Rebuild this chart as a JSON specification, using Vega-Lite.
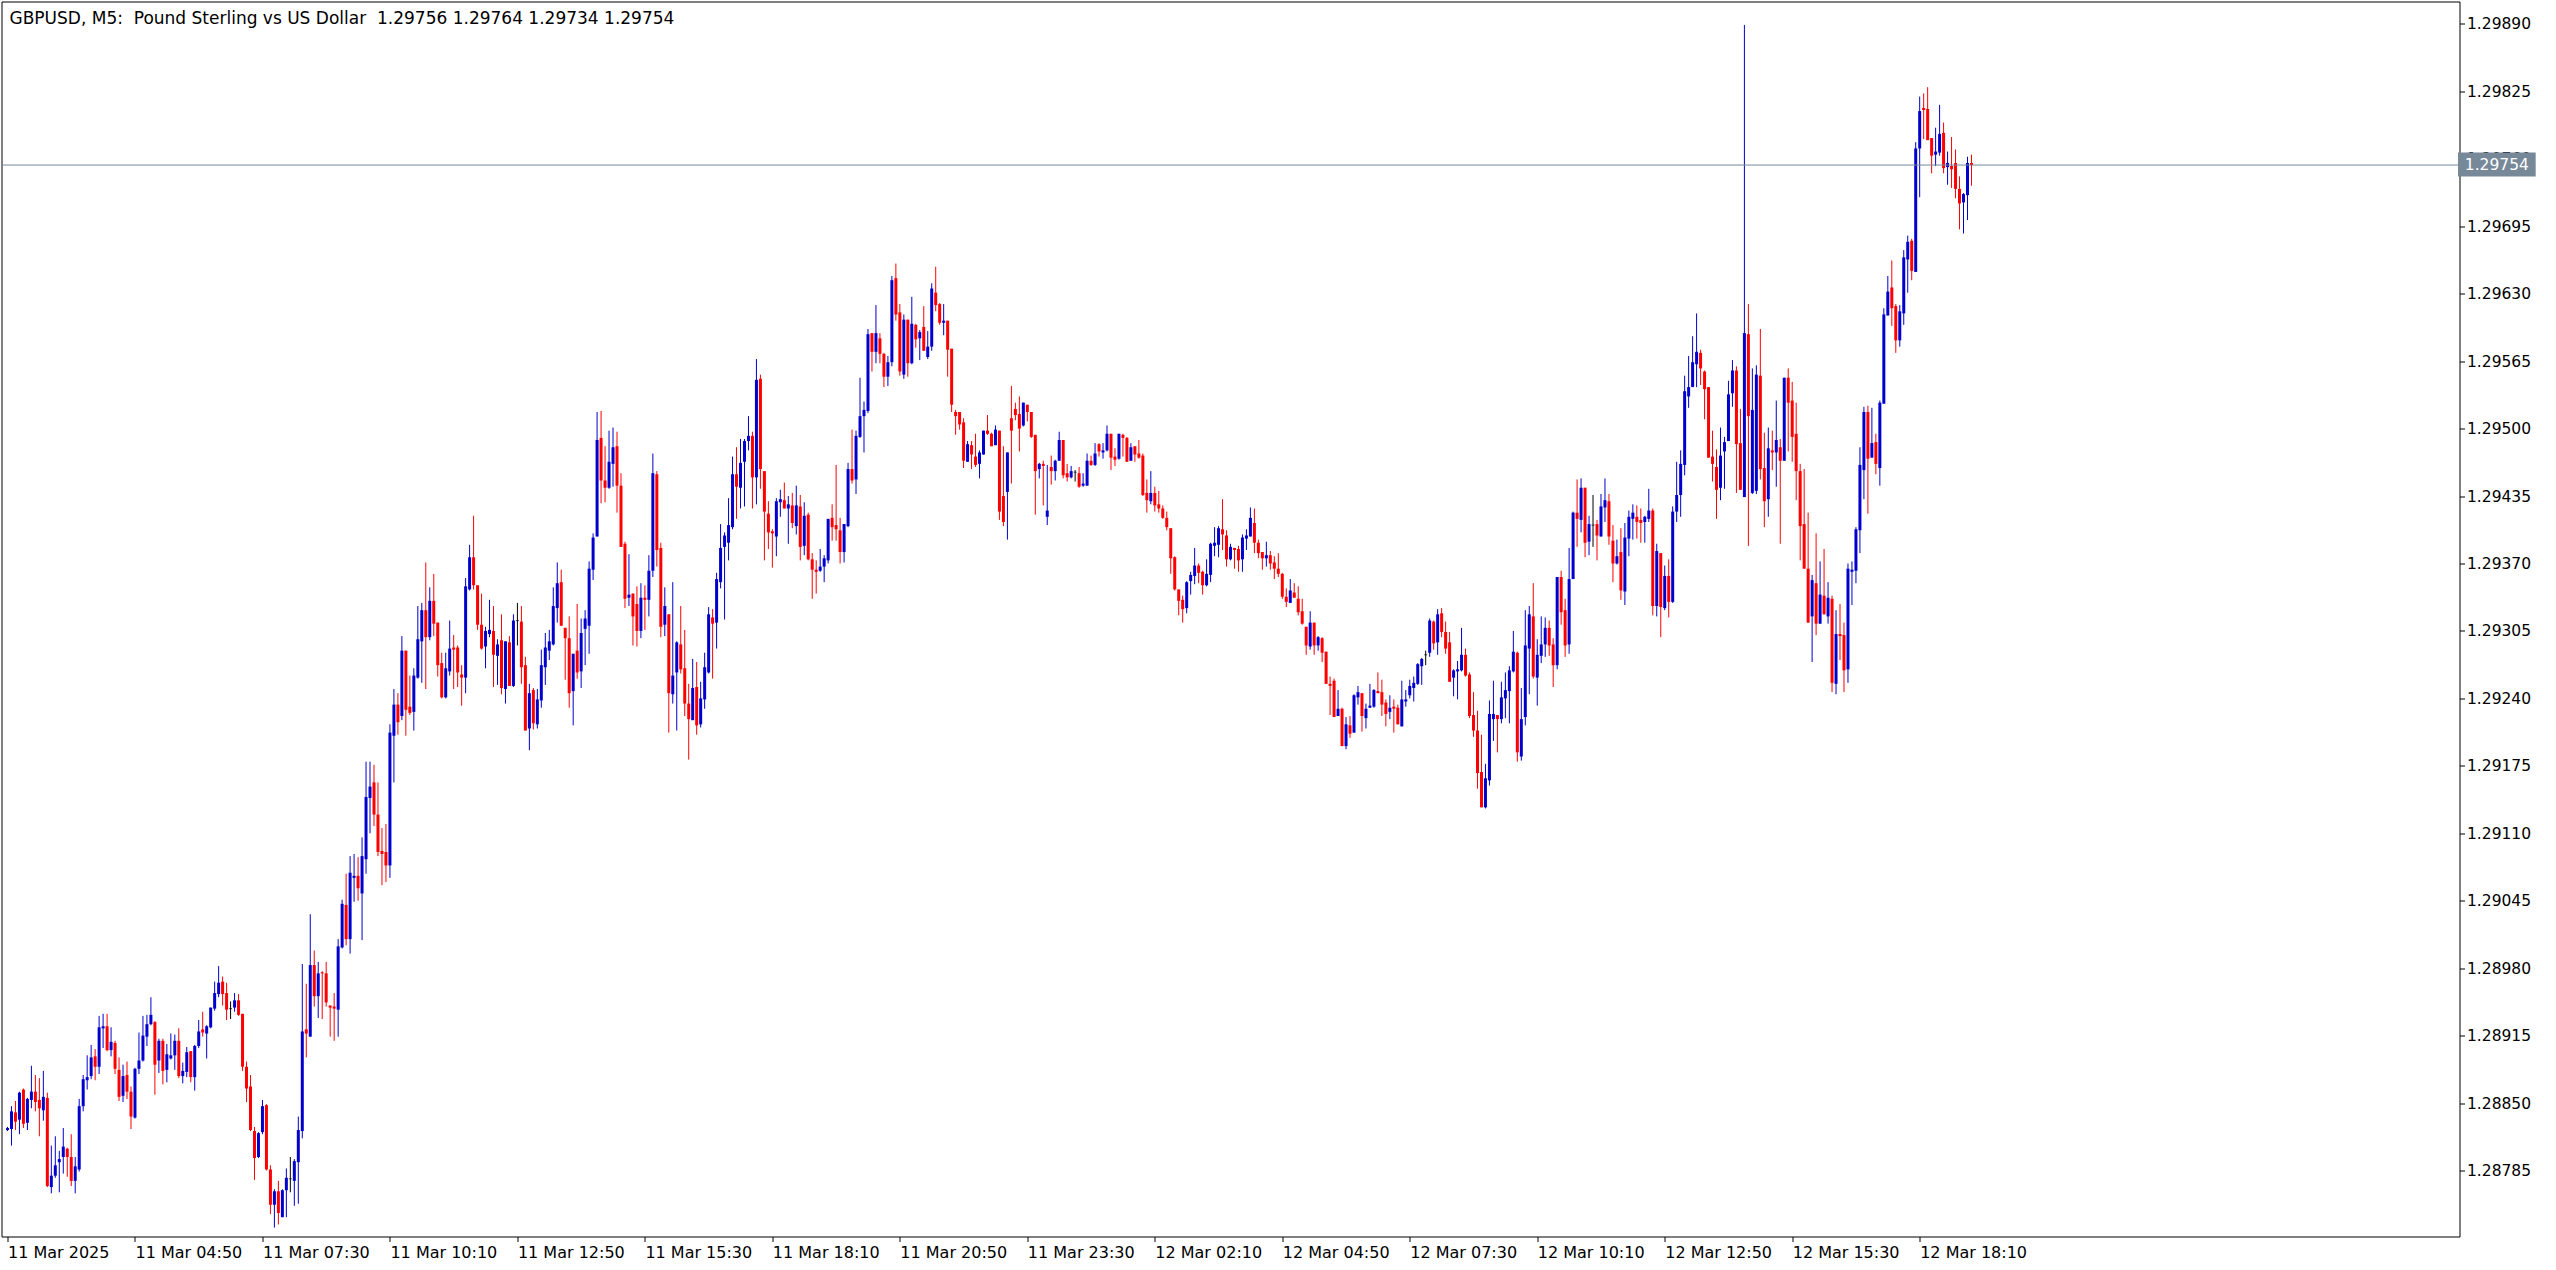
{
"$schema":"https://vega.github.io/schema/vega-lite/v6.json",
"width":2458,"height":1235,
"autosize":{"type":"none"},
"padding":{"left":1.5,"top":1.5,"right":96.5,"bottom":33.5},
"background":"white",
"config":{"view":{"stroke":"black","strokeWidth":1},"font":"DejaVu Sans"},
"title":{"text":"GBPUSD, M5: \u00a0Pound Sterling vs US Dollar \u00a01.29756 1.29764 1.29734 1.29754","anchor":"start","frame":"group","orient":"top","offset":-8,"baseline":"top","dx":8,"dy":18,"font":"DejaVu Sans","fontSize":17,"fontWeight":"normal","color":"black"},
"data":{"values":[
{"i":0,"o":1.28824,"h":1.28827,"l":1.28823,"c":1.28826},
{"i":1,"o":1.28825,"h":1.28847,"l":1.28809,"c":1.28842},
{"i":2,"o":1.28841,"h":1.28852,"l":1.28824,"c":1.28832},
{"i":3,"o":1.28834,"h":1.28861,"l":1.2882,"c":1.2886},
{"i":4,"o":1.28863,"h":1.28864,"l":1.28826,"c":1.2883},
{"i":5,"o":1.28831,"h":1.28855,"l":1.28824,"c":1.28854},
{"i":6,"o":1.28853,"h":1.28886,"l":1.28845,"c":1.28861},
{"i":7,"o":1.28861,"h":1.28877,"l":1.28842,"c":1.28851},
{"i":8,"o":1.28853,"h":1.28874,"l":1.28818,"c":1.28845},
{"i":9,"o":1.28843,"h":1.28881,"l":1.28833,"c":1.28856},
{"i":10,"o":1.28855,"h":1.2886,"l":1.28769,"c":1.2877},
{"i":11,"o":1.28769,"h":1.28809,"l":1.28763,"c":1.2878},
{"i":12,"o":1.2878,"h":1.28818,"l":1.28778,"c":1.2879},
{"i":13,"o":1.28793,"h":1.28804,"l":1.28764,"c":1.28796},
{"i":14,"o":1.28798,"h":1.28826,"l":1.28782,"c":1.28808},
{"i":15,"o":1.28806,"h":1.28807,"l":1.28779,"c":1.28798},
{"i":16,"o":1.28798,"h":1.2882,"l":1.2877,"c":1.28775},
{"i":17,"o":1.28775,"h":1.28798,"l":1.28763,"c":1.28789},
{"i":18,"o":1.28786,"h":1.28854,"l":1.28784,"c":1.28847},
{"i":19,"o":1.28847,"h":1.28877,"l":1.28842,"c":1.28873},
{"i":20,"o":1.28872,"h":1.28896,"l":1.28863,"c":1.28875},
{"i":21,"o":1.28876,"h":1.28906,"l":1.28873,"c":1.28894},
{"i":22,"o":1.28895,"h":1.28902,"l":1.28872,"c":1.28885},
{"i":23,"o":1.28885,"h":1.28934,"l":1.28878,"c":1.28923},
{"i":24,"o":1.28922,"h":1.28936,"l":1.28903,"c":1.28924},
{"i":25,"o":1.28924,"h":1.28936,"l":1.289,"c":1.28901},
{"i":26,"o":1.28901,"h":1.28923,"l":1.28895,"c":1.28909},
{"i":27,"o":1.28908,"h":1.2891,"l":1.28878,"c":1.28883},
{"i":28,"o":1.28882,"h":1.28894,"l":1.28852,"c":1.28856},
{"i":29,"o":1.28857,"h":1.28887,"l":1.28851,"c":1.28876},
{"i":30,"o":1.28877,"h":1.2889,"l":1.28854,"c":1.28861},
{"i":31,"o":1.28861,"h":1.28866,"l":1.28825,"c":1.28837},
{"i":32,"o":1.28836,"h":1.28884,"l":1.28835,"c":1.28883},
{"i":33,"o":1.28883,"h":1.28918,"l":1.28878,"c":1.28891},
{"i":34,"o":1.28891,"h":1.28934,"l":1.2889,"c":1.28915},
{"i":35,"o":1.28914,"h":1.28935,"l":1.28905,"c":1.28926},
{"i":36,"o":1.28926,"h":1.28952,"l":1.28925,"c":1.28935},
{"i":37,"o":1.28928,"h":1.28929,"l":1.28858,"c":1.28887},
{"i":38,"o":1.28891,"h":1.28912,"l":1.28879,"c":1.2891},
{"i":39,"o":1.2891,"h":1.28912,"l":1.28868,"c":1.28881},
{"i":40,"o":1.28882,"h":1.28907,"l":1.2887,"c":1.28897},
{"i":41,"o":1.28893,"h":1.28917,"l":1.28892,"c":1.28896},
{"i":42,"o":1.28896,"h":1.28916,"l":1.28882,"c":1.2891},
{"i":43,"o":1.2891,"h":1.28922,"l":1.28874,"c":1.28876},
{"i":44,"o":1.28876,"h":1.28889,"l":1.28869,"c":1.28881},
{"i":45,"o":1.2888,"h":1.28904,"l":1.28875,"c":1.28899},
{"i":46,"o":1.289,"h":1.289,"l":1.2887,"c":1.28875},
{"i":47,"o":1.28875,"h":1.28906,"l":1.28862,"c":1.28905},
{"i":48,"o":1.28905,"h":1.2893,"l":1.28903,"c":1.28919},
{"i":49,"o":1.28921,"h":1.28938,"l":1.28914,"c":1.28918},
{"i":50,"o":1.28917,"h":1.28925,"l":1.28893,"c":1.28924},
{"i":51,"o":1.28923,"h":1.28942,"l":1.28922,"c":1.28942},
{"i":52,"o":1.28941,"h":1.28967,"l":1.28939,"c":1.28956},
{"i":53,"o":1.28955,"h":1.28982,"l":1.28952,"c":1.28966},
{"i":54,"o":1.28967,"h":1.28972,"l":1.28944,"c":1.28955},
{"i":55,"o":1.28956,"h":1.28966,"l":1.2893,"c":1.2894},
{"i":56,"o":1.28941,"h":1.28948,"l":1.28931,"c":1.28941},
{"i":57,"o":1.28942,"h":1.28956,"l":1.28938,"c":1.28949},
{"i":58,"o":1.28949,"h":1.28955,"l":1.28934,"c":1.28935},
{"i":59,"o":1.28936,"h":1.28936,"l":1.28881,"c":1.28885},
{"i":60,"o":1.28885,"h":1.2889,"l":1.28851,"c":1.28864},
{"i":61,"o":1.28866,"h":1.28877,"l":1.28823,"c":1.28824},
{"i":62,"o":1.28823,"h":1.28827,"l":1.28776,"c":1.28797},
{"i":63,"o":1.28798,"h":1.28822,"l":1.28797,"c":1.28821},
{"i":64,"o":1.28822,"h":1.28853,"l":1.2882,"c":1.28847},
{"i":65,"o":1.28848,"h":1.28849,"l":1.28785,"c":1.28786},
{"i":66,"o":1.28786,"h":1.2879,"l":1.28743,"c":1.28752},
{"i":67,"o":1.28752,"h":1.28767,"l":1.2873,"c":1.28765},
{"i":68,"o":1.28765,"h":1.28775,"l":1.28733,"c":1.28744},
{"i":69,"o":1.2874,"h":1.28767,"l":1.2874,"c":1.28766},
{"i":70,"o":1.28766,"h":1.28787,"l":1.2874,"c":1.28778},
{"i":71,"o":1.28777,"h":1.28798,"l":1.28764,"c":1.28777},
{"i":72,"o":1.28775,"h":1.28796,"l":1.28751,"c":1.28794},
{"i":73,"o":1.28793,"h":1.28837,"l":1.28753,"c":1.28824},
{"i":74,"o":1.28823,"h":1.28984,"l":1.28816,"c":1.28919},
{"i":75,"o":1.28921,"h":1.28965,"l":1.28894,"c":1.28917},
{"i":76,"o":1.28914,"h":1.29032,"l":1.28914,"c":1.28983},
{"i":77,"o":1.28983,"h":1.28997,"l":1.28943,"c":1.28953},
{"i":78,"o":1.28953,"h":1.28986,"l":1.28932,"c":1.28975},
{"i":79,"o":1.28976,"h":1.28977,"l":1.28931,"c":1.28975},
{"i":80,"o":1.28975,"h":1.28986,"l":1.28943,"c":1.28947},
{"i":81,"o":1.28944,"h":1.28944,"l":1.28914,"c":1.28942},
{"i":82,"o":1.28943,"h":1.28956,"l":1.2891,"c":1.28941},
{"i":83,"o":1.2894,"h":1.29008,"l":1.28914,"c":1.29001},
{"i":84,"o":1.29,"h":1.29046,"l":1.28999,"c":1.29042},
{"i":85,"o":1.29041,"h":1.29071,"l":1.29002,"c":1.29008},
{"i":86,"o":1.29008,"h":1.29088,"l":1.28994,"c":1.29072},
{"i":87,"o":1.29067,"h":1.2909,"l":1.29044,"c":1.29069},
{"i":88,"o":1.29069,"h":1.29087,"l":1.29045,"c":1.29057},
{"i":89,"o":1.29052,"h":1.29106,"l":1.29007,"c":1.29088},
{"i":90,"o":1.29085,"h":1.29179,"l":1.29071,"c":1.29145},
{"i":91,"o":1.29144,"h":1.29179,"l":1.2911,"c":1.29155},
{"i":92,"o":1.29159,"h":1.29176,"l":1.29117,"c":1.29128},
{"i":93,"o":1.29128,"h":1.29159,"l":1.29088,"c":1.29092},
{"i":94,"o":1.29093,"h":1.29115,"l":1.2906,"c":1.2909},
{"i":95,"o":1.29092,"h":1.29119,"l":1.29063,"c":1.29079},
{"i":96,"o":1.29079,"h":1.29215,"l":1.29067,"c":1.29207},
{"i":97,"o":1.29204,"h":1.29249,"l":1.29159,"c":1.29234},
{"i":98,"o":1.29234,"h":1.29245,"l":1.29205,"c":1.29217},
{"i":99,"o":1.29223,"h":1.293,"l":1.29219,"c":1.29286},
{"i":100,"o":1.29286,"h":1.29286,"l":1.29204,"c":1.29229},
{"i":101,"o":1.29232,"h":1.29262,"l":1.29224,"c":1.29226},
{"i":102,"o":1.29227,"h":1.29269,"l":1.29209,"c":1.29262},
{"i":103,"o":1.2926,"h":1.29329,"l":1.29259,"c":1.29297},
{"i":104,"o":1.29295,"h":1.29332,"l":1.29255,"c":1.29325},
{"i":105,"o":1.29325,"h":1.29371,"l":1.29249,"c":1.29299},
{"i":106,"o":1.29299,"h":1.29347,"l":1.29296,"c":1.29334},
{"i":107,"o":1.29334,"h":1.2936,"l":1.293,"c":1.29312},
{"i":108,"o":1.29313,"h":1.29313,"l":1.29261,"c":1.29272},
{"i":109,"o":1.29274,"h":1.29284,"l":1.2924,"c":1.29241},
{"i":110,"o":1.29241,"h":1.29284,"l":1.2924,"c":1.29269},
{"i":111,"o":1.29266,"h":1.29315,"l":1.29262,"c":1.29288},
{"i":112,"o":1.29289,"h":1.29301,"l":1.29249,"c":1.29287},
{"i":113,"o":1.29289,"h":1.29291,"l":1.29251,"c":1.29265},
{"i":114,"o":1.29263,"h":1.29272,"l":1.29233,"c":1.2926},
{"i":115,"o":1.2926,"h":1.29356,"l":1.29245,"c":1.29348},
{"i":116,"o":1.29345,"h":1.29388,"l":1.29344,"c":1.29376},
{"i":117,"o":1.29376,"h":1.29416,"l":1.29345,"c":1.29349},
{"i":118,"o":1.29349,"h":1.29349,"l":1.29306,"c":1.29311},
{"i":119,"o":1.29311,"h":1.29341,"l":1.29287,"c":1.29288},
{"i":120,"o":1.2929,"h":1.29309,"l":1.29269,"c":1.29305},
{"i":121,"o":1.29302,"h":1.29335,"l":1.29299,"c":1.29306},
{"i":122,"o":1.29305,"h":1.29329,"l":1.29251,"c":1.29282},
{"i":123,"o":1.29281,"h":1.29297,"l":1.29253,"c":1.29292},
{"i":124,"o":1.29296,"h":1.29321,"l":1.29244,"c":1.2925},
{"i":125,"o":1.29249,"h":1.29295,"l":1.29235,"c":1.29295},
{"i":126,"o":1.29294,"h":1.293,"l":1.29252,"c":1.29252},
{"i":127,"o":1.29252,"h":1.29321,"l":1.29251,"c":1.29315},
{"i":128,"o":1.29315,"h":1.29332,"l":1.29291,"c":1.29315},
{"i":129,"o":1.29314,"h":1.29329,"l":1.29254,"c":1.2927},
{"i":130,"o":1.29272,"h":1.2928,"l":1.29209,"c":1.29209},
{"i":131,"o":1.29211,"h":1.29254,"l":1.2919,"c":1.29245},
{"i":132,"o":1.29248,"h":1.2925,"l":1.2921,"c":1.29216},
{"i":133,"o":1.29215,"h":1.29249,"l":1.29211,"c":1.29239},
{"i":134,"o":1.29238,"h":1.29287,"l":1.29231,"c":1.29272},
{"i":135,"o":1.2927,"h":1.29303,"l":1.29253,"c":1.29289},
{"i":136,"o":1.29286,"h":1.29306,"l":1.29277,"c":1.29295},
{"i":137,"o":1.29292,"h":1.29347,"l":1.29291,"c":1.29329},
{"i":138,"o":1.29327,"h":1.29371,"l":1.29313,"c":1.29351},
{"i":139,"o":1.29352,"h":1.29364,"l":1.2931,"c":1.2931},
{"i":140,"o":1.29308,"h":1.29308,"l":1.29258,"c":1.29298},
{"i":141,"o":1.29298,"h":1.29319,"l":1.29231,"c":1.29245},
{"i":142,"o":1.29247,"h":1.29283,"l":1.29214,"c":1.29283},
{"i":143,"o":1.29286,"h":1.29331,"l":1.29259,"c":1.29265},
{"i":144,"o":1.29266,"h":1.29317,"l":1.2925,"c":1.29303},
{"i":145,"o":1.29307,"h":1.29325,"l":1.29272,"c":1.29317},
{"i":146,"o":1.2931,"h":1.29372,"l":1.29283,"c":1.29365},
{"i":147,"o":1.29364,"h":1.29399,"l":1.29354,"c":1.29395},
{"i":148,"o":1.29396,"h":1.29516,"l":1.29396,"c":1.29489},
{"i":149,"o":1.29491,"h":1.29517,"l":1.29428,"c":1.2945},
{"i":150,"o":1.2945,"h":1.29483,"l":1.29429,"c":1.29443},
{"i":151,"o":1.29443,"h":1.29498,"l":1.29442,"c":1.29468},
{"i":152,"o":1.29466,"h":1.29501,"l":1.29444,"c":1.29482},
{"i":153,"o":1.29483,"h":1.29497,"l":1.29419,"c":1.29445},
{"i":154,"o":1.29445,"h":1.29457,"l":1.29386,"c":1.29386},
{"i":155,"o":1.29389,"h":1.29391,"l":1.29327,"c":1.29336},
{"i":156,"o":1.29337,"h":1.29379,"l":1.29329,"c":1.2934},
{"i":157,"o":1.29341,"h":1.29341,"l":1.29291,"c":1.29319},
{"i":158,"o":1.29331,"h":1.29348,"l":1.2929,"c":1.29305},
{"i":159,"o":1.29305,"h":1.29351,"l":1.29298,"c":1.29337},
{"i":160,"o":1.29337,"h":1.29349,"l":1.29306,"c":1.29335},
{"i":161,"o":1.29335,"h":1.29378,"l":1.29319,"c":1.29363},
{"i":162,"o":1.29363,"h":1.29476,"l":1.29357,"c":1.29457},
{"i":163,"o":1.29456,"h":1.29459,"l":1.29367,"c":1.29383},
{"i":164,"o":1.29385,"h":1.2939,"l":1.29299,"c":1.29309},
{"i":165,"o":1.29311,"h":1.29347,"l":1.293,"c":1.29329},
{"i":166,"o":1.29321,"h":1.29321,"l":1.29207,"c":1.29245},
{"i":167,"o":1.29244,"h":1.29352,"l":1.29235,"c":1.29262},
{"i":168,"o":1.29265,"h":1.29295,"l":1.29209,"c":1.29294},
{"i":169,"o":1.29292,"h":1.29329,"l":1.29264,"c":1.29268},
{"i":170,"o":1.29269,"h":1.29306,"l":1.29223,"c":1.29235},
{"i":171,"o":1.29235,"h":1.29254,"l":1.29181,"c":1.2922},
{"i":172,"o":1.29219,"h":1.29278,"l":1.29219,"c":1.2925},
{"i":173,"o":1.29251,"h":1.29275,"l":1.29205,"c":1.29214},
{"i":174,"o":1.29215,"h":1.29256,"l":1.29212,"c":1.2924},
{"i":175,"o":1.29239,"h":1.29284,"l":1.2923,"c":1.2927},
{"i":176,"o":1.29265,"h":1.29328,"l":1.29264,"c":1.29321},
{"i":177,"o":1.29318,"h":1.29326,"l":1.29259,"c":1.29312},
{"i":178,"o":1.29313,"h":1.29361,"l":1.29288,"c":1.29355},
{"i":179,"o":1.29352,"h":1.29408,"l":1.29346,"c":1.29385},
{"i":180,"o":1.29386,"h":1.294,"l":1.29316,"c":1.29397},
{"i":181,"o":1.2939,"h":1.29433,"l":1.29373,"c":1.29407},
{"i":182,"o":1.29405,"h":1.29473,"l":1.29403,"c":1.29456},
{"i":183,"o":1.29456,"h":1.29482,"l":1.29413,"c":1.29444},
{"i":184,"o":1.29443,"h":1.2949,"l":1.29423,"c":1.29467},
{"i":185,"o":1.29468,"h":1.2949,"l":1.29425,"c":1.29488},
{"i":186,"o":1.29488,"h":1.29512,"l":1.29479,"c":1.29493},
{"i":187,"o":1.29493,"h":1.29497,"l":1.29423,"c":1.29453},
{"i":188,"o":1.29453,"h":1.29567,"l":1.29427,"c":1.29547},
{"i":189,"o":1.29548,"h":1.29552,"l":1.29442,"c":1.29461},
{"i":190,"o":1.29459,"h":1.29459,"l":1.29373,"c":1.2942},
{"i":191,"o":1.29418,"h":1.2943,"l":1.29384,"c":1.294},
{"i":192,"o":1.29401,"h":1.29403,"l":1.29366,"c":1.29399},
{"i":193,"o":1.29396,"h":1.29433,"l":1.29377,"c":1.2943},
{"i":194,"o":1.29429,"h":1.29441,"l":1.29415,"c":1.29432},
{"i":195,"o":1.29431,"h":1.29448,"l":1.29423,"c":1.29423},
{"i":196,"o":1.29423,"h":1.29435,"l":1.29389,"c":1.29427},
{"i":197,"o":1.29426,"h":1.29438,"l":1.29404,"c":1.29409},
{"i":198,"o":1.29406,"h":1.29445,"l":1.29398,"c":1.29426},
{"i":199,"o":1.29425,"h":1.29436,"l":1.29373,"c":1.29386},
{"i":200,"o":1.29387,"h":1.29429,"l":1.29378,"c":1.29416},
{"i":201,"o":1.29417,"h":1.29419,"l":1.29373,"c":1.29374},
{"i":202,"o":1.29374,"h":1.2938,"l":1.29336,"c":1.29364},
{"i":203,"o":1.29364,"h":1.29373,"l":1.29341,"c":1.29362},
{"i":204,"o":1.29363,"h":1.29384,"l":1.29362,"c":1.29367},
{"i":205,"o":1.29367,"h":1.29378,"l":1.29352,"c":1.29375},
{"i":206,"o":1.29373,"h":1.29413,"l":1.2937,"c":1.29413},
{"i":207,"o":1.29414,"h":1.29427,"l":1.29392,"c":1.29405},
{"i":208,"o":1.29407,"h":1.29465,"l":1.29392,"c":1.29403},
{"i":209,"o":1.29402,"h":1.29414,"l":1.2937,"c":1.29381},
{"i":210,"o":1.29381,"h":1.29408,"l":1.29371,"c":1.29408},
{"i":211,"o":1.29406,"h":1.29467,"l":1.29405,"c":1.29461},
{"i":212,"o":1.29461,"h":1.29499,"l":1.29447,"c":1.2945},
{"i":213,"o":1.29451,"h":1.29498,"l":1.29437,"c":1.29493},
{"i":214,"o":1.29492,"h":1.29549,"l":1.29491,"c":1.29512},
{"i":215,"o":1.29512,"h":1.29526,"l":1.29477,"c":1.29518},
{"i":216,"o":1.29517,"h":1.29596,"l":1.29515,"c":1.29591},
{"i":217,"o":1.29592,"h":1.29592,"l":1.29555,"c":1.29574},
{"i":218,"o":1.29574,"h":1.29619,"l":1.29563,"c":1.29592},
{"i":219,"o":1.29587,"h":1.29592,"l":1.29563,"c":1.29572},
{"i":220,"o":1.29572,"h":1.29573,"l":1.2954,"c":1.2955},
{"i":221,"o":1.2955,"h":1.2957,"l":1.29541,"c":1.29564},
{"i":222,"o":1.29564,"h":1.29647,"l":1.2956,"c":1.29643},
{"i":223,"o":1.29645,"h":1.29659,"l":1.29604,"c":1.2961},
{"i":224,"o":1.29612,"h":1.2962,"l":1.29551,"c":1.29555},
{"i":225,"o":1.29552,"h":1.2961,"l":1.29548,"c":1.29605},
{"i":226,"o":1.29605,"h":1.29605,"l":1.2955,"c":1.29563},
{"i":227,"o":1.29563,"h":1.29627,"l":1.29562,"c":1.29601},
{"i":228,"o":1.296,"h":1.29601,"l":1.29578,"c":1.29586},
{"i":229,"o":1.29587,"h":1.29595,"l":1.29566,"c":1.29593},
{"i":230,"o":1.29598,"h":1.29618,"l":1.29575,"c":1.29575},
{"i":231,"o":1.29569,"h":1.29594,"l":1.29567,"c":1.29579},
{"i":232,"o":1.29579,"h":1.2964,"l":1.29575,"c":1.29635},
{"i":233,"o":1.29631,"h":1.29656,"l":1.29613,"c":1.29619},
{"i":234,"o":1.2962,"h":1.29621,"l":1.296,"c":1.29602},
{"i":235,"o":1.29602,"h":1.2962,"l":1.2959,"c":1.29604},
{"i":236,"o":1.29604,"h":1.29604,"l":1.2955,"c":1.29576},
{"i":237,"o":1.29577,"h":1.29577,"l":1.29516,"c":1.29523},
{"i":238,"o":1.29516,"h":1.29518,"l":1.29494,"c":1.29512},
{"i":239,"o":1.29516,"h":1.29516,"l":1.29499,"c":1.29504},
{"i":240,"o":1.29506,"h":1.2951,"l":1.29462,"c":1.29469},
{"i":241,"o":1.29468,"h":1.29488,"l":1.29468,"c":1.29485},
{"i":242,"o":1.29484,"h":1.29488,"l":1.29461,"c":1.29475},
{"i":243,"o":1.29473,"h":1.29495,"l":1.29463,"c":1.29465},
{"i":244,"o":1.29466,"h":1.29479,"l":1.29452,"c":1.29477},
{"i":245,"o":1.29475,"h":1.29498,"l":1.29475,"c":1.29498},
{"i":246,"o":1.29498,"h":1.29513,"l":1.29494,"c":1.29495},
{"i":247,"o":1.29495,"h":1.29496,"l":1.29483,"c":1.29483},
{"i":248,"o":1.29484,"h":1.29503,"l":1.29484,"c":1.29499},
{"i":249,"o":1.29498,"h":1.29498,"l":1.29412,"c":1.2942},
{"i":250,"o":1.29435,"h":1.29483,"l":1.29406,"c":1.2941},
{"i":251,"o":1.29439,"h":1.29477,"l":1.29393,"c":1.29477},
{"i":252,"o":1.2951,"h":1.29541,"l":1.29447,"c":1.29498},
{"i":253,"o":1.29519,"h":1.29525,"l":1.29508,"c":1.29513},
{"i":254,"o":1.29514,"h":1.29531,"l":1.29478,"c":1.295},
{"i":255,"o":1.29503,"h":1.29525,"l":1.29502,"c":1.29525},
{"i":256,"o":1.29523,"h":1.29523,"l":1.29507,"c":1.29516},
{"i":257,"o":1.29516,"h":1.29516,"l":1.29491,"c":1.29492},
{"i":258,"o":1.29494,"h":1.29494,"l":1.29417,"c":1.29459},
{"i":259,"o":1.29461,"h":1.29467,"l":1.29452,"c":1.29466},
{"i":260,"o":1.29466,"h":1.29469,"l":1.29426,"c":1.29464},
{"i":261,"o":1.29415,"h":1.29465,"l":1.29407,"c":1.29421},
{"i":262,"o":1.29463,"h":1.29474,"l":1.29446,"c":1.29459},
{"i":263,"o":1.29459,"h":1.2947,"l":1.2945,"c":1.29469},
{"i":264,"o":1.29469,"h":1.29497,"l":1.29469,"c":1.29489},
{"i":265,"o":1.29489,"h":1.29489,"l":1.29452,"c":1.29455},
{"i":266,"o":1.29457,"h":1.29466,"l":1.29449,"c":1.29453},
{"i":267,"o":1.29453,"h":1.29464,"l":1.29452,"c":1.29459},
{"i":268,"o":1.29458,"h":1.2946,"l":1.29449,"c":1.29458},
{"i":269,"o":1.29457,"h":1.29463,"l":1.29443,"c":1.29444},
{"i":270,"o":1.29445,"h":1.29457,"l":1.29444,"c":1.29447},
{"i":271,"o":1.29445,"h":1.29476,"l":1.29445,"c":1.29469},
{"i":272,"o":1.29469,"h":1.29474,"l":1.29464,"c":1.29465},
{"i":273,"o":1.29465,"h":1.29486,"l":1.29464,"c":1.29476},
{"i":274,"o":1.29485,"h":1.29486,"l":1.29473,"c":1.29478},
{"i":275,"o":1.29477,"h":1.29486,"l":1.29471,"c":1.29479},
{"i":276,"o":1.29479,"h":1.29503,"l":1.29478,"c":1.29495},
{"i":277,"o":1.29495,"h":1.29495,"l":1.2946,"c":1.29472},
{"i":278,"o":1.29473,"h":1.29481,"l":1.29464,"c":1.2947},
{"i":279,"o":1.29471,"h":1.29495,"l":1.2947,"c":1.29495},
{"i":280,"o":1.29494,"h":1.29495,"l":1.29473,"c":1.29491},
{"i":281,"o":1.29491,"h":1.29492,"l":1.29468,"c":1.29468},
{"i":282,"o":1.29469,"h":1.29486,"l":1.29469,"c":1.29482},
{"i":283,"o":1.29483,"h":1.29483,"l":1.29468,"c":1.29475},
{"i":284,"o":1.29476,"h":1.29489,"l":1.29471,"c":1.29472},
{"i":285,"o":1.29474,"h":1.29476,"l":1.29435,"c":1.29436},
{"i":286,"o":1.29438,"h":1.29451,"l":1.29419,"c":1.29431},
{"i":287,"o":1.2943,"h":1.29459,"l":1.29427,"c":1.29438},
{"i":288,"o":1.29438,"h":1.29444,"l":1.2942,"c":1.29426},
{"i":289,"o":1.29427,"h":1.2944,"l":1.29419,"c":1.29423},
{"i":290,"o":1.29423,"h":1.29426,"l":1.29413,"c":1.29414},
{"i":291,"o":1.29414,"h":1.2942,"l":1.29402,"c":1.29405},
{"i":292,"o":1.29404,"h":1.29404,"l":1.2936,"c":1.29375},
{"i":293,"o":1.29376,"h":1.29377,"l":1.29344,"c":1.29345},
{"i":294,"o":1.29345,"h":1.29345,"l":1.2932,"c":1.29334},
{"i":295,"o":1.29335,"h":1.29339,"l":1.29313,"c":1.29326},
{"i":296,"o":1.29327,"h":1.29353,"l":1.29322,"c":1.29352},
{"i":297,"o":1.29353,"h":1.29362,"l":1.2934,"c":1.29359},
{"i":298,"o":1.29358,"h":1.29385,"l":1.2935,"c":1.29368},
{"i":299,"o":1.29368,"h":1.2937,"l":1.29351,"c":1.29361},
{"i":300,"o":1.29362,"h":1.29363,"l":1.2934,"c":1.29349},
{"i":301,"o":1.29349,"h":1.29374,"l":1.29348,"c":1.2936},
{"i":302,"o":1.29359,"h":1.2939,"l":1.29352,"c":1.29389},
{"i":303,"o":1.29387,"h":1.29405,"l":1.29377,"c":1.2939},
{"i":304,"o":1.29388,"h":1.29406,"l":1.29376,"c":1.29404},
{"i":305,"o":1.29403,"h":1.29432,"l":1.29383,"c":1.29398},
{"i":306,"o":1.29397,"h":1.29402,"l":1.29367,"c":1.29374},
{"i":307,"o":1.29374,"h":1.29389,"l":1.29373,"c":1.29386},
{"i":308,"o":1.29385,"h":1.29385,"l":1.29365,"c":1.29383},
{"i":309,"o":1.29384,"h":1.29387,"l":1.29362,"c":1.29373},
{"i":310,"o":1.29374,"h":1.29398,"l":1.29362,"c":1.29395},
{"i":311,"o":1.29394,"h":1.29403,"l":1.29383,"c":1.29397},
{"i":312,"o":1.29396,"h":1.29424,"l":1.29396,"c":1.29414},
{"i":313,"o":1.29409,"h":1.29423,"l":1.2938,"c":1.2939},
{"i":314,"o":1.2939,"h":1.29393,"l":1.29375,"c":1.2938},
{"i":315,"o":1.29381,"h":1.29381,"l":1.29364,"c":1.29375},
{"i":316,"o":1.29375,"h":1.29391,"l":1.29367,"c":1.29378},
{"i":317,"o":1.29378,"h":1.29382,"l":1.29364,"c":1.2937},
{"i":318,"o":1.29371,"h":1.29377,"l":1.29355,"c":1.29365},
{"i":319,"o":1.29365,"h":1.2938,"l":1.29357,"c":1.2936},
{"i":320,"o":1.2936,"h":1.29361,"l":1.29336,"c":1.29338},
{"i":321,"o":1.29338,"h":1.29346,"l":1.29328,"c":1.29333},
{"i":322,"o":1.29332,"h":1.29355,"l":1.29332,"c":1.29344},
{"i":323,"o":1.29342,"h":1.29351,"l":1.29337,"c":1.29337},
{"i":324,"o":1.29336,"h":1.29348,"l":1.2932,"c":1.29323},
{"i":325,"o":1.29324,"h":1.29336,"l":1.29311,"c":1.29312},
{"i":326,"o":1.29309,"h":1.29309,"l":1.29282,"c":1.29291},
{"i":327,"o":1.2929,"h":1.29324,"l":1.29287,"c":1.29313},
{"i":328,"o":1.29313,"h":1.29313,"l":1.29282,"c":1.29291},
{"i":329,"o":1.29291,"h":1.293,"l":1.29286,"c":1.29299},
{"i":330,"o":1.29298,"h":1.29299,"l":1.29275,"c":1.29284},
{"i":331,"o":1.29285,"h":1.29285,"l":1.29254,"c":1.29254},
{"i":332,"o":1.29254,"h":1.29261,"l":1.29224,"c":1.29252},
{"i":333,"o":1.29257,"h":1.29259,"l":1.29222,"c":1.29222},
{"i":334,"o":1.29223,"h":1.29248,"l":1.29223,"c":1.2923},
{"i":335,"o":1.2923,"h":1.29231,"l":1.29194,"c":1.29194},
{"i":336,"o":1.29194,"h":1.29222,"l":1.29191,"c":1.29215},
{"i":337,"o":1.29214,"h":1.29223,"l":1.29202,"c":1.29206},
{"i":338,"o":1.29207,"h":1.29244,"l":1.29207,"c":1.29243},
{"i":339,"o":1.29241,"h":1.29252,"l":1.29234,"c":1.29246},
{"i":340,"o":1.29245,"h":1.29245,"l":1.29208,"c":1.29223},
{"i":341,"o":1.29221,"h":1.29235,"l":1.29211,"c":1.2923},
{"i":342,"o":1.29231,"h":1.29254,"l":1.29231,"c":1.29233},
{"i":343,"o":1.29232,"h":1.29249,"l":1.29231,"c":1.29248},
{"i":344,"o":1.29247,"h":1.29265,"l":1.29245,"c":1.29245},
{"i":345,"o":1.29246,"h":1.29258,"l":1.29223,"c":1.29234},
{"i":346,"o":1.29236,"h":1.29239,"l":1.29213,"c":1.29225},
{"i":347,"o":1.29227,"h":1.29243,"l":1.2922,"c":1.29231},
{"i":348,"o":1.29232,"h":1.29239,"l":1.29207,"c":1.2923},
{"i":349,"o":1.29231,"h":1.29234,"l":1.29215,"c":1.29215},
{"i":350,"o":1.29213,"h":1.29257,"l":1.29213,"c":1.29239},
{"i":351,"o":1.29237,"h":1.29248,"l":1.29232,"c":1.29239},
{"i":352,"o":1.29243,"h":1.29258,"l":1.2924,"c":1.29252},
{"i":353,"o":1.2925,"h":1.29261,"l":1.29237,"c":1.29255},
{"i":354,"o":1.29254,"h":1.29274,"l":1.29253,"c":1.29273},
{"i":355,"o":1.29271,"h":1.29279,"l":1.29253,"c":1.29278},
{"i":356,"o":1.29282,"h":1.29286,"l":1.29272,"c":1.29282},
{"i":357,"o":1.29284,"h":1.29317,"l":1.2928,"c":1.29315},
{"i":358,"o":1.29314,"h":1.29315,"l":1.29287,"c":1.29293},
{"i":359,"o":1.29294,"h":1.29326,"l":1.29282,"c":1.29321},
{"i":360,"o":1.29322,"h":1.29327,"l":1.29299,"c":1.29304},
{"i":361,"o":1.29304,"h":1.29314,"l":1.29283,"c":1.29288},
{"i":362,"o":1.29294,"h":1.29304,"l":1.29256,"c":1.29256},
{"i":363,"o":1.2926,"h":1.29268,"l":1.29242,"c":1.29267},
{"i":364,"o":1.29266,"h":1.29276,"l":1.29239,"c":1.29268},
{"i":365,"o":1.29267,"h":1.29308,"l":1.29266,"c":1.29282},
{"i":366,"o":1.29282,"h":1.29288,"l":1.29261,"c":1.29262},
{"i":367,"o":1.29263,"h":1.29265,"l":1.29221,"c":1.29223},
{"i":368,"o":1.29224,"h":1.29246,"l":1.29203,"c":1.29209},
{"i":369,"o":1.29209,"h":1.29228,"l":1.29153,"c":1.29168},
{"i":370,"o":1.29169,"h":1.29205,"l":1.29135,"c":1.29135},
{"i":371,"o":1.29135,"h":1.29177,"l":1.29134,"c":1.29163},
{"i":372,"o":1.29161,"h":1.29238,"l":1.29156,"c":1.29225},
{"i":373,"o":1.2922,"h":1.29257,"l":1.29199,"c":1.29225},
{"i":374,"o":1.29224,"h":1.29224,"l":1.29188,"c":1.2922},
{"i":375,"o":1.2922,"h":1.29256,"l":1.29216,"c":1.29241},
{"i":376,"o":1.2924,"h":1.29265,"l":1.29221,"c":1.29248},
{"i":377,"o":1.29247,"h":1.29271,"l":1.29216,"c":1.29267},
{"i":378,"o":1.29266,"h":1.29305,"l":1.29265,"c":1.29285},
{"i":379,"o":1.29284,"h":1.29285,"l":1.29179,"c":1.29188},
{"i":380,"o":1.29184,"h":1.2925,"l":1.2918,"c":1.2922},
{"i":381,"o":1.29222,"h":1.29325,"l":1.29214,"c":1.29291},
{"i":382,"o":1.29288,"h":1.29329,"l":1.29244,"c":1.29321},
{"i":383,"o":1.29319,"h":1.29351,"l":1.29259,"c":1.29261},
{"i":384,"o":1.2926,"h":1.29297,"l":1.29233,"c":1.29282},
{"i":385,"o":1.29281,"h":1.29319,"l":1.29274,"c":1.29292},
{"i":386,"o":1.29292,"h":1.29318,"l":1.2928,"c":1.29308},
{"i":387,"o":1.29308,"h":1.29315,"l":1.29281,"c":1.29291},
{"i":388,"o":1.29292,"h":1.29298,"l":1.29251,"c":1.29272},
{"i":389,"o":1.29272,"h":1.29357,"l":1.29268,"c":1.29357},
{"i":390,"o":1.29357,"h":1.29363,"l":1.29311,"c":1.29323},
{"i":391,"o":1.29325,"h":1.29336,"l":1.2928,"c":1.29291},
{"i":392,"o":1.29292,"h":1.29385,"l":1.29283,"c":1.29355},
{"i":393,"o":1.29355,"h":1.2942,"l":1.29355,"c":1.29419},
{"i":394,"o":1.29419,"h":1.29451,"l":1.29386,"c":1.29413},
{"i":395,"o":1.29412,"h":1.29452,"l":1.294,"c":1.29443},
{"i":396,"o":1.29443,"h":1.29443,"l":1.29376,"c":1.2939},
{"i":397,"o":1.29391,"h":1.29416,"l":1.29378,"c":1.29408},
{"i":398,"o":1.29407,"h":1.29436,"l":1.29386,"c":1.29407},
{"i":399,"o":1.29408,"h":1.29412,"l":1.29373,"c":1.29397},
{"i":400,"o":1.29396,"h":1.29437,"l":1.29396,"c":1.29425},
{"i":401,"o":1.29424,"h":1.29452,"l":1.2941,"c":1.29431},
{"i":402,"o":1.2943,"h":1.29437,"l":1.29388,"c":1.29396},
{"i":403,"o":1.29392,"h":1.29407,"l":1.29352,"c":1.2937},
{"i":404,"o":1.2937,"h":1.29393,"l":1.29369,"c":1.29377},
{"i":405,"o":1.29381,"h":1.29404,"l":1.29335,"c":1.29344},
{"i":406,"o":1.29343,"h":1.29409,"l":1.2933,"c":1.29395},
{"i":407,"o":1.29394,"h":1.29421,"l":1.29377,"c":1.29415},
{"i":408,"o":1.29413,"h":1.29427,"l":1.29393,"c":1.29419},
{"i":409,"o":1.29415,"h":1.29426,"l":1.29394,"c":1.2941},
{"i":410,"o":1.29412,"h":1.29423,"l":1.2939,"c":1.29409},
{"i":411,"o":1.2941,"h":1.29416,"l":1.2939,"c":1.29415},
{"i":412,"o":1.29413,"h":1.29442,"l":1.2941,"c":1.29421},
{"i":413,"o":1.29421,"h":1.29423,"l":1.2932,"c":1.29329},
{"i":414,"o":1.29329,"h":1.29389,"l":1.29319,"c":1.29382},
{"i":415,"o":1.2938,"h":1.2938,"l":1.29299,"c":1.29328},
{"i":416,"o":1.29327,"h":1.29368,"l":1.29325,"c":1.29358},
{"i":417,"o":1.29358,"h":1.29374,"l":1.29318,"c":1.29333},
{"i":418,"o":1.29333,"h":1.29425,"l":1.29332,"c":1.2942},
{"i":419,"o":1.2942,"h":1.29468,"l":1.2941,"c":1.29436},
{"i":420,"o":1.29436,"h":1.29479,"l":1.29415,"c":1.29466},
{"i":421,"o":1.29465,"h":1.29551,"l":1.29455,"c":1.29536},
{"i":422,"o":1.29531,"h":1.2957,"l":1.2952,"c":1.2954},
{"i":423,"o":1.2954,"h":1.29589,"l":1.2954,"c":1.29564},
{"i":424,"o":1.29562,"h":1.29611,"l":1.2954,"c":1.29574},
{"i":425,"o":1.29573,"h":1.29576,"l":1.29542,"c":1.29558},
{"i":426,"o":1.29555,"h":1.29556,"l":1.29509,"c":1.29538},
{"i":427,"o":1.2954,"h":1.2954,"l":1.29472,"c":1.29472},
{"i":428,"o":1.29473,"h":1.29498,"l":1.29449,"c":1.29466},
{"i":429,"o":1.29463,"h":1.2948,"l":1.29413,"c":1.29441},
{"i":430,"o":1.29443,"h":1.29501,"l":1.29431,"c":1.29474},
{"i":431,"o":1.29478,"h":1.29492,"l":1.29442,"c":1.29487},
{"i":432,"o":1.29488,"h":1.29546,"l":1.29488,"c":1.29533},
{"i":433,"o":1.29534,"h":1.29566,"l":1.29521,"c":1.29556},
{"i":434,"o":1.29556,"h":1.2956,"l":1.29438,"c":1.29485},
{"i":435,"o":1.29486,"h":1.29519,"l":1.29441,"c":1.29441},
{"i":436,"o":1.29434,"h":1.29889,"l":1.29434,"c":1.29592},
{"i":437,"o":1.29591,"h":1.2962,"l":1.29387,"c":1.29512},
{"i":438,"o":1.29438,"h":1.29558,"l":1.29437,"c":1.29518},
{"i":439,"o":1.2944,"h":1.29561,"l":1.29437,"c":1.29552},
{"i":440,"o":1.29551,"h":1.29596,"l":1.29451,"c":1.29461},
{"i":441,"o":1.29462,"h":1.29496,"l":1.29405,"c":1.2943},
{"i":442,"o":1.29432,"h":1.29501,"l":1.29415,"c":1.29481},
{"i":443,"o":1.29479,"h":1.29498,"l":1.2946,"c":1.29477},
{"i":444,"o":1.29477,"h":1.29527,"l":1.29444,"c":1.29489},
{"i":445,"o":1.29482,"h":1.2949,"l":1.29389,"c":1.29469},
{"i":446,"o":1.29469,"h":1.29549,"l":1.29469,"c":1.29549},
{"i":447,"o":1.29549,"h":1.29558,"l":1.29478,"c":1.29525},
{"i":448,"o":1.29527,"h":1.29545,"l":1.29468,"c":1.29492},
{"i":449,"o":1.29495,"h":1.29525,"l":1.29431,"c":1.29459},
{"i":450,"o":1.29459,"h":1.29466,"l":1.29373,"c":1.29406},
{"i":451,"o":1.29408,"h":1.29461,"l":1.29365,"c":1.29365},
{"i":452,"o":1.29365,"h":1.29419,"l":1.29313,"c":1.29313},
{"i":453,"o":1.29319,"h":1.29359,"l":1.29275,"c":1.29354},
{"i":454,"o":1.29351,"h":1.29399,"l":1.29301,"c":1.29312},
{"i":455,"o":1.29312,"h":1.29372,"l":1.29312,"c":1.2934},
{"i":456,"o":1.29339,"h":1.29384,"l":1.29321,"c":1.29321},
{"i":457,"o":1.29319,"h":1.29352,"l":1.29312,"c":1.29337},
{"i":458,"o":1.29336,"h":1.29339,"l":1.29246,"c":1.29255},
{"i":459,"o":1.29254,"h":1.29325,"l":1.29244,"c":1.29302},
{"i":460,"o":1.29302,"h":1.29331,"l":1.29277,"c":1.293},
{"i":461,"o":1.29301,"h":1.29313,"l":1.29246,"c":1.29267},
{"i":462,"o":1.29268,"h":1.2937,"l":1.29255,"c":1.29365},
{"i":463,"o":1.29362,"h":1.29372,"l":1.2933,"c":1.29364},
{"i":464,"o":1.29363,"h":1.29405,"l":1.29351,"c":1.29403},
{"i":465,"o":1.29402,"h":1.29482,"l":1.2938,"c":1.29465},
{"i":466,"o":1.2946,"h":1.29521,"l":1.29432,"c":1.29516},
{"i":467,"o":1.29516,"h":1.29522,"l":1.29418,"c":1.29471},
{"i":468,"o":1.29472,"h":1.2952,"l":1.29472,"c":1.29486},
{"i":469,"o":1.29487,"h":1.29495,"l":1.29456,"c":1.29466},
{"i":470,"o":1.29462,"h":1.29527,"l":1.29445,"c":1.29525},
{"i":471,"o":1.29524,"h":1.29616,"l":1.29524,"c":1.2961},
{"i":472,"o":1.29609,"h":1.29647,"l":1.29609,"c":1.29632},
{"i":473,"o":1.29636,"h":1.29662,"l":1.29599,"c":1.29616},
{"i":474,"o":1.29618,"h":1.2962,"l":1.29573,"c":1.29585},
{"i":475,"o":1.29585,"h":1.29619,"l":1.29579,"c":1.29613},
{"i":476,"o":1.29611,"h":1.29672,"l":1.296,"c":1.29665},
{"i":477,"o":1.29663,"h":1.29686,"l":1.29631,"c":1.2968},
{"i":478,"o":1.29681,"h":1.29683,"l":1.29643,"c":1.29652},
{"i":479,"o":1.29651,"h":1.29776,"l":1.29651,"c":1.2977},
{"i":480,"o":1.2977,"h":1.2982,"l":1.29723,"c":1.29806},
{"i":481,"o":1.29809,"h":1.29823,"l":1.29779,"c":1.29807},
{"i":482,"o":1.29808,"h":1.29829,"l":1.29778,"c":1.29778},
{"i":483,"o":1.2978,"h":1.2978,"l":1.29746,"c":1.29763},
{"i":484,"o":1.29764,"h":1.2979,"l":1.29753,"c":1.29767},
{"i":485,"o":1.29766,"h":1.29812,"l":1.29763,"c":1.29784},
{"i":486,"o":1.29785,"h":1.29795,"l":1.29746,"c":1.29751},
{"i":487,"o":1.29752,"h":1.29767,"l":1.29735,"c":1.29756},
{"i":488,"o":1.29753,"h":1.29781,"l":1.29732,"c":1.2975},
{"i":489,"o":1.29756,"h":1.29769,"l":1.29722,"c":1.29731},
{"i":490,"o":1.29731,"h":1.29743,"l":1.29692,"c":1.29717},
{"i":491,"o":1.29718,"h":1.29727,"l":1.29688,"c":1.29726},
{"i":492,"o":1.29725,"h":1.29762,"l":1.29701,"c":1.29756},
{"i":493,"o":1.29756,"h":1.29764,"l":1.29734,"c":1.29754}
]},
"layer":[
{"mark":{"type":"rule","strokeWidth":1},
 "encoding":{
  "x":{"field":"i","type":"quantitative","title":null,"scale":{"domain":[-0.25,614.25],"nice":false,"zero":false},
   "axis":{"values":[0,32,64,96,128,160,192,224,256,288,320,352,384,416,448,480],
    "labelExpr":"['11 Mar 2025','11 Mar 04:50','11 Mar 07:30','11 Mar 10:10','11 Mar 12:50','11 Mar 15:30','11 Mar 18:10','11 Mar 20:50','11 Mar 23:30','12 Mar 02:10','12 Mar 04:50','12 Mar 07:30','12 Mar 10:10','12 Mar 12:50','12 Mar 15:30','12 Mar 18:10'][round(datum.value/32)]",
    "grid":false,"domain":false,"tickSize":5,"tickColor":"black","labelColor":"black","labelFont":"DejaVu Sans","labelFontSize":16,"labelAlign":"left","labelBaseline":"top","labelPadding":3,"labelFlush":false,"labelOverlap":false,"labelBound":false,"title":null}},
  "y":{"field":"l","type":"quantitative","title":null,"scale":{"domain":[1.287214,1.299116],"nice":false,"zero":false},
   "axis":{"orient":"right","values":[1.28785,1.2885,1.28915,1.2898,1.29045,1.2911,1.29175,1.2924,1.29305,1.2937,1.29435,1.295,1.29565,1.2963,1.29695,1.2976,1.29825,1.2989],
    "format":".5f","grid":false,"domain":false,"tickSize":5,"tickColor":"black","labelColor":"black","labelFont":"DejaVu Sans","labelFontSize":15.5,"labelAlign":"left","labelBaseline":"middle","labelPadding":2,"labelFlush":false,"labelOverlap":false,"labelBound":false,"title":null}},
  "y2":{"field":"h"},
  "color":{"condition":[{"test":"datum.c == datum.o","value":"black"},{"test":"datum.c > datum.o","value":"#0000cd"}],"value":"#ff0000"}
 }},
{"mark":{"type":"bar","width":3,"strokeWidth":0},
 "encoding":{
  "x":{"field":"i","type":"quantitative","title":null},
  "y":{"field":"o","type":"quantitative","title":null},
  "y2":{"field":"c"},
  "color":{"condition":[{"test":"datum.c == datum.o","value":"black"},{"test":"datum.c > datum.o","value":"#0000cd"}],"value":"#ff0000"}
 }},
{"transform":[{"filter":"datum.o == datum.c"}],
 "mark":{"type":"tick","orient":"horizontal","size":3,"thickness":1,"color":"black"},
 "encoding":{
  "x":{"field":"i","type":"quantitative","title":null},
  "y":{"field":"o","type":"quantitative","title":null}
 }},
{"data":{"values":[{"p":1.29754}]},
 "mark":{"type":"rule","color":"#778899","strokeWidth":1},
 "encoding":{"y":{"field":"p","type":"quantitative","title":null}}},
{"data":{"values":[{"p":1.29754,"top":1.29766,"bot":1.29743,"x1":615.125,"x2":634.625}]},
 "mark":{"type":"rect","color":"#778899"},
 "encoding":{"x":{"field":"x1","type":"quantitative","title":null},"x2":{"field":"x2"},"y":{"field":"top","type":"quantitative","title":null},"y2":{"field":"bot"}}},
{"data":{"values":[{"p":1.29754,"xm":624.875}]},
 "mark":{"type":"text","color":"white","font":"DejaVu Sans","fontSize":15.5,"align":"center","baseline":"middle"},
 "encoding":{"x":{"field":"xm","type":"quantitative","title":null},"y":{"field":"p","type":"quantitative","title":null},"text":{"field":"p","type":"quantitative","format":".5f"}}}
]
}
